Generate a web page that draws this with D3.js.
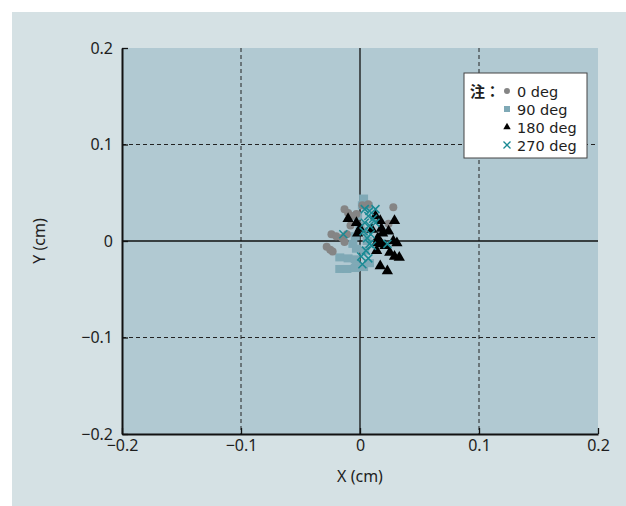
<!DOCTYPE html>
<html>
<head>
<meta charset="utf-8">
<script src="https://cdn.jsdelivr.net/npm/d3@7"></script>
<style>
  body { margin: 0; background: #fff; }
  svg text { font-family: "Noto Sans", "Noto Sans CJK JP", sans-serif; fill: #1e1e1e; }
</style>
</head>
<body>
<svg id="chart" width="626" height="506"></svg>
<script>
// tick values and labels
const ticks = [-0.2, -0.1, 0, 0.1, 0.2];
const tickLabels = ["\u22120.2", "\u22120.1", "0", "0.1", "0.2"];

// each series: [x, y] in cm
const deg0 = [[-0.013,0.033],[-0.010,0.029],[-0.007,0.026],[-0.003,0.028],[0.002,0.037],[0.007,0.038],
  [0.028,0.035],[0.024,0.018],[-0.024,0.007],[-0.020,0.005],[-0.015,0.003],[-0.013,-0.001],
  [-0.011,0.007],[-0.028,-0.006],[-0.025,-0.009],[-0.023,-0.011],[-0.008,0.016]];
const deg90 = [[0.003,0.044],[0.002,0.037],[0.007,0.036],[-0.002,0.026],[0,0.016],[-0.004,0.005],
  [-0.006,-0.003],[-0.003,-0.008],[-0.017,-0.017],[-0.010,-0.018],[-0.004,-0.019],[-0.017,-0.029],
  [-0.011,-0.029],[-0.003,-0.027],[0.003,-0.027],[0.008,-0.023],[0.004,-0.010],[0.006,0],
  [0.003,0.010],[-0.004,-0.028]];
const deg180 = [[-0.010,0.023],[-0.003,0.019],[0,0.013],[-0.002,0.008],[0.017,0.021],[0.018,0.013],
  [0.019,0.008],[0.024,0.010],[0.029,0.021],[0.028,0],[0.031,-0.002],[0.015,0.003],[0.018,-0.003],
  [0.014,-0.010],[0.025,-0.012],[0.029,-0.016],[0.033,-0.017],[0.017,-0.026],[0.023,-0.031],
  [0.021,-0.005],[0.014,-0.002],[0.010,0.012],[0.013,0.026]];
const deg270 = [[0.004,0.033],[0.008,0.031],[0.013,0.033],[0.007,0.026],[0.011,0.023],[0.004,0.019],
  [0.008,0.016],[0.013,0.019],[-0.014,0.007],[0.006,0.003],[0.008,-0.003],[0.010,-0.005],
  [0.005,-0.010],[0.007,-0.018],[0.002,-0.024],[0.023,-0.003],[0.003,0.010],[0.009,0.007],
  [0.001,-0.016]];
const seriesNames = ["0 deg", "90 deg", "180 deg", "270 deg"];

const svg = d3.select("#chart");
const plotLeft = 122, plotRight = 598, plotTop = 48, plotBottom = 434;

// outer panel
svg.append("rect").attr("x", 12).attr("y", 12).attr("width", 614).attr("height", 494).attr("fill", "#d5e1e4");

const x = d3.scaleLinear().domain([-0.2, 0.2]).range([plotLeft, plotRight]);
const y = d3.scaleLinear().domain([-0.2, 0.2]).range([plotBottom, plotTop]);

svg.append("rect").attr("x", plotLeft).attr("y", plotTop).attr("width", plotRight - plotLeft).attr("height", plotBottom - plotTop)
  .attr("fill", "#b1c9d2");

// grid
const grid = svg.append("g");
ticks.filter(t => Math.abs(t) === 0.1).forEach(t => {
  grid.append("line").attr("x1", x(t)).attr("x2", x(t)).attr("y1", plotTop).attr("y2", plotBottom)
    .attr("stroke", "#222").attr("stroke-width", 1).attr("stroke-dasharray", "4,3");
  grid.append("line").attr("x1", plotLeft).attr("x2", plotRight).attr("y1", y(t)).attr("y2", y(t))
    .attr("stroke", "#222").attr("stroke-width", 1).attr("stroke-dasharray", "4,3");
});
grid.append("line").attr("x1", x(0)).attr("x2", x(0)).attr("y1", plotTop).attr("y2", plotBottom).attr("stroke", "#111").attr("stroke-width", 1.3);
grid.append("line").attr("x1", plotLeft).attr("x2", plotRight).attr("y1", y(0)).attr("y2", y(0)).attr("stroke", "#111").attr("stroke-width", 1.3);

// axes (inward ticks)
const xAxis = d3.axisBottom(x).tickValues(ticks).tickFormat((d, i) => tickLabels[i]).tickSizeInner(-6).tickSizeOuter(0).tickPadding(8);
const yAxis = d3.axisLeft(y).tickValues(ticks).tickFormat((d, i) => tickLabels[i]).tickSizeInner(-6).tickSizeOuter(0).tickPadding(9);

const gx = svg.append("g").attr("transform", "translate(0," + plotBottom + ")").call(xAxis);
const gy = svg.append("g").attr("transform", "translate(" + plotLeft + ",0)").call(yAxis);
[gx, gy].forEach(g => {
  g.select(".domain").attr("stroke", "#111").attr("stroke-width", 2);
  g.selectAll(".tick line").attr("stroke", "#111").attr("stroke-width", 1.3);
  g.selectAll(".tick text").attr("font-size", 16).style("font-family", "'Noto Sans', sans-serif").attr("fill", "#1e1e1e");
});
gx.selectAll(".tick text").attr("dy", "0.55em");
gy.selectAll(".tick text").attr("dy", "0.32em");

svg.append("text").attr("x", x(0)).attr("y", 482).attr("text-anchor", "middle").attr("font-size", 16).text("X (cm)");
svg.append("text").attr("transform", "translate(45," + y(0) + ") rotate(-90)").attr("text-anchor", "middle")
  .attr("font-size", 16).text("Y (cm)");

// points
const plot = svg.append("g");
plot.selectAll("rect.s90").data(deg90).enter().append("rect").attr("class", "s90")
  .attr("x", d => x(d[0]) - 4.5).attr("y", d => y(d[1]) - 4).attr("width", 9).attr("height", 8).attr("fill", "#7fa9b6");
plot.selectAll("circle.s0").data(deg0).enter().append("circle").attr("class", "s0")
  .attr("cx", d => x(d[0])).attr("cy", d => y(d[1])).attr("r", 4).attr("fill", "#858585");
const tri = d3.symbol().type(d3.symbolTriangle).size(55);
plot.selectAll("path.s180").data(deg180).enter().append("path").attr("class", "s180")
  .attr("d", tri).attr("transform", d => "translate(" + x(d[0]) + "," + y(d[1]) + ")").attr("fill", "#000");
const crossPath = "M-4,-4L4,4M-4,4L4,-4";
plot.selectAll("path.s270").data(deg270).enter().append("path").attr("class", "s270")
  .attr("d", crossPath).attr("transform", d => "translate(" + x(d[0]) + "," + y(d[1]) + ")")
  .attr("stroke", "#1a8a94").attr("stroke-width", 1.5).attr("fill", "none");

// legend
const lg = svg.append("g").attr("transform", "translate(464,73)");
lg.append("rect").attr("width", 123).attr("height", 85).attr("fill", "#fff").attr("stroke", "#444").attr("stroke-width", 1);
lg.append("text").attr("x", 6).attr("y", 24).attr("font-size", 15).attr("font-weight", "bold")
  .style("font-family", "'Noto Sans CJK JP', sans-serif").text("注：");
seriesNames.forEach((name, i) => {
  const cy = 18 + i * 18;
  const m = lg.append("g").attr("transform", "translate(43," + cy + ")");
  if (i === 0) m.append("circle").attr("r", 3).attr("fill", "#858585");
  if (i === 1) m.append("rect").attr("x", -3).attr("y", -3).attr("width", 6).attr("height", 6).attr("fill", "#7fa9b6");
  if (i === 2) m.append("path").attr("d", d3.symbol().type(d3.symbolTriangle).size(24)).attr("fill", "#000");
  if (i === 3) m.append("path").attr("d", "M-3.5,-3.5L3.5,3.5M-3.5,3.5L3.5,-3.5").attr("stroke", "#1a8a94").attr("stroke-width", 1.3);
  lg.append("text").attr("x", 53).attr("y", cy + 5.5).attr("font-size", 14.5)
    .style("font-family", "'DejaVu Sans', sans-serif").text(name);
});
</script>
</body>
</html>
